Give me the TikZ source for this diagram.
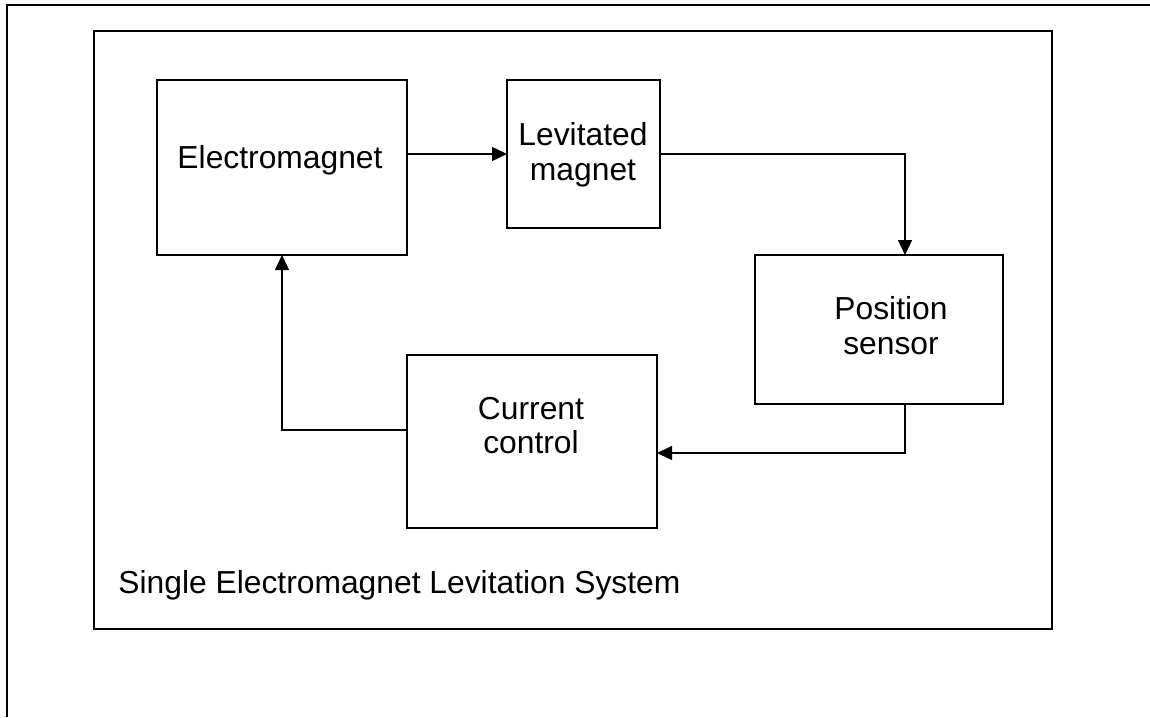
\documentclass[tikz,border=0pt]{standalone}
\usepackage{fontspec}
\setmainfont{Liberation Sans}
\usetikzlibrary{arrows.meta,calc}
\begin{document}
\begin{tikzpicture}[x=0.5pt,y=-0.5pt,
  blk/.style={draw,line width=1pt,inner sep=0pt,outer sep=0pt},
  lbl/.style={anchor=base,inner sep=0pt,font=\fontsize{15.9}{17.5}\selectfont},
  arr/.style={line width=0.7pt,-{Triangle[length=7.5pt,width=7pt]}},
  frm/.style={line width=1pt}]
\useasboundingbox (0,0) rectangle (1150,717);
% outer frame (top and left only)
\draw[frm] (1150,4.7) -- (7,4.7) -- (7,717);
% inner frame
\draw[frm] (94,31) rectangle (1052,629);
% blocks
\node[blk,minimum width=125pt,minimum height=87.5pt] (em) at (282,167.5) {};
\node[blk,minimum width=76.5pt,minimum height=74pt] (lev) at (583.5,154) {};
\node[blk,minimum width=124pt,minimum height=74.5pt] (pos) at (879,329.5) {};
\node[blk,minimum width=125pt,minimum height=86.5pt] (cc) at (532,441.5) {};
% labels
\node[lbl] (tem) at (280,168) {Electromagnet};
\node[lbl] (tlev1) at (583,145) {Levitated};
\node[lbl] (tlev2) at (583,180) {magnet};
\node[lbl] (tpos1) at (891,319) {Position};
\node[lbl] (tpos2) at (891,354) {sensor};
\node[lbl] (tcc1) at (531,419) {Current};
\node[lbl] (tcc2) at (531,453) {control};
\node[lbl,anchor=base west] (title) at (118,593) {Single Electromagnet Levitation System};
% connectors
\draw[arr] (lev.west -| em.east) -- (lev.west);
\draw[arr] (lev.east) -| ($(pos.north)+(26,0)$);
\draw[arr] ($(pos.south)+(26,0)$) |- ($(cc.east)+(0,11.5)$);
\draw[arr] ($(cc.west)+(0,-11.5)$) -| (em.south);
\end{tikzpicture}
\end{document}
